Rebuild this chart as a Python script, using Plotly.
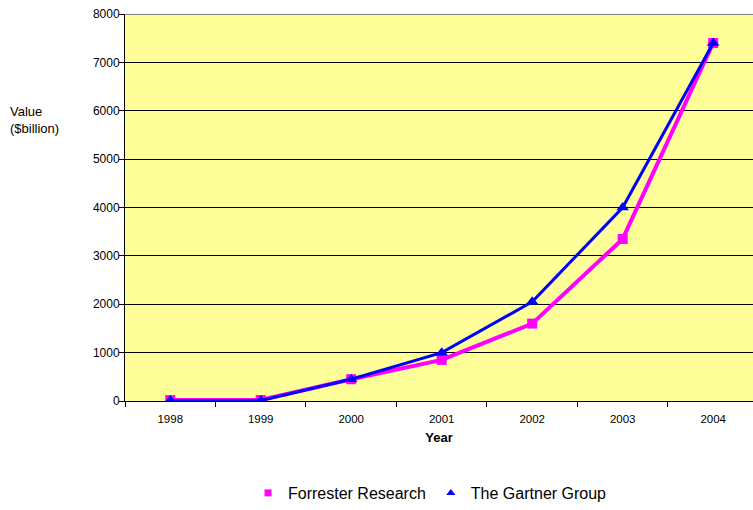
import plotly.graph_objects as go

years = ["1998", "1999", "2000", "2001", "2002", "2003", "2004"]
forrester = [20, 20, 450, 850, 1600, 3350, 7400]
gartner = [10, 10, 450, 1000, 2050, 4000, 7400]
y_ticks = [0, 1000, 2000, 3000, 4000, 5000, 6000, 7000, 8000]

MAG = "#FF00FF"
BLUE = "#0000FF"

fig = go.Figure()
fig.add_trace(go.Scatter(x=years, y=forrester, mode="lines+markers", showlegend=False,
                         line=dict(color=MAG, width=4),
                         marker=dict(symbol="square", size=10, color=MAG)))
fig.add_trace(go.Scatter(x=years, y=gartner, mode="lines+markers", showlegend=False,
                         line=dict(color=BLUE, width=3),
                         marker=dict(symbol="triangle-up", size=11, color=BLUE)))
# legend entries (marker only)
fig.add_trace(go.Scatter(x=[None], y=[None], mode="markers", name="Forrester Research",
                         marker=dict(symbol="square", size=7, color=MAG)))
fig.add_trace(go.Scatter(x=[None], y=[None], mode="markers", name="The Gartner Group",
                         marker=dict(symbol="triangle-up", size=8, color=BLUE)))

fig.add_shape(type="line", xref="paper", yref="y", x0=0, x1=1, y0=8000, y1=8000,
              line=dict(color="#808080", width=2), layer="above")

fig.update_layout(
    width=753, height=510,
    margin=dict(l=125, r=0, t=14, b=109),
    paper_bgcolor="white", plot_bgcolor="#FFFF99",
    font=dict(family="Arial, Liberation Sans, sans-serif", color="black", size=12),
    xaxis=dict(type="category", range=[-0.5, 6.44], showgrid=False,
               showline=True, linecolor="black", linewidth=1,
               ticks="outside", tickson="boundaries", ticklen=5, tickcolor="black",
               tickfont=dict(size=11.5), ticklabelstandoff=7,
               title=dict(text="<b>Year</b>", font=dict(size=13), standoff=9)),
    yaxis=dict(range=[0, 8000], tickvals=y_ticks, showgrid=True, gridcolor="black", gridwidth=1,
               showline=True, linecolor="black", linewidth=1, zeroline=False,
               ticks="outside", ticklen=5, tickcolor="black", tickfont=dict(size=12),
               ticklabelstandoff=-3, ticklabeloverflow="allow"),
    legend=dict(orientation="h", x=0.4857, xanchor="center", y=-0.238, yanchor="middle",
                font=dict(size=16), itemwidth=30),
    annotations=[dict(text="Value<br>($billion)", xref="paper", yref="paper",
                      x=-0.1863, y=0.726, xanchor="left", yanchor="middle", showarrow=False,
                      align="left", font=dict(size=13))],
)

fig.write_html("out.html", config={"displayModeBar": False},
               post_script="document.body.style.margin='0';document.body.style.overflow='hidden';")
